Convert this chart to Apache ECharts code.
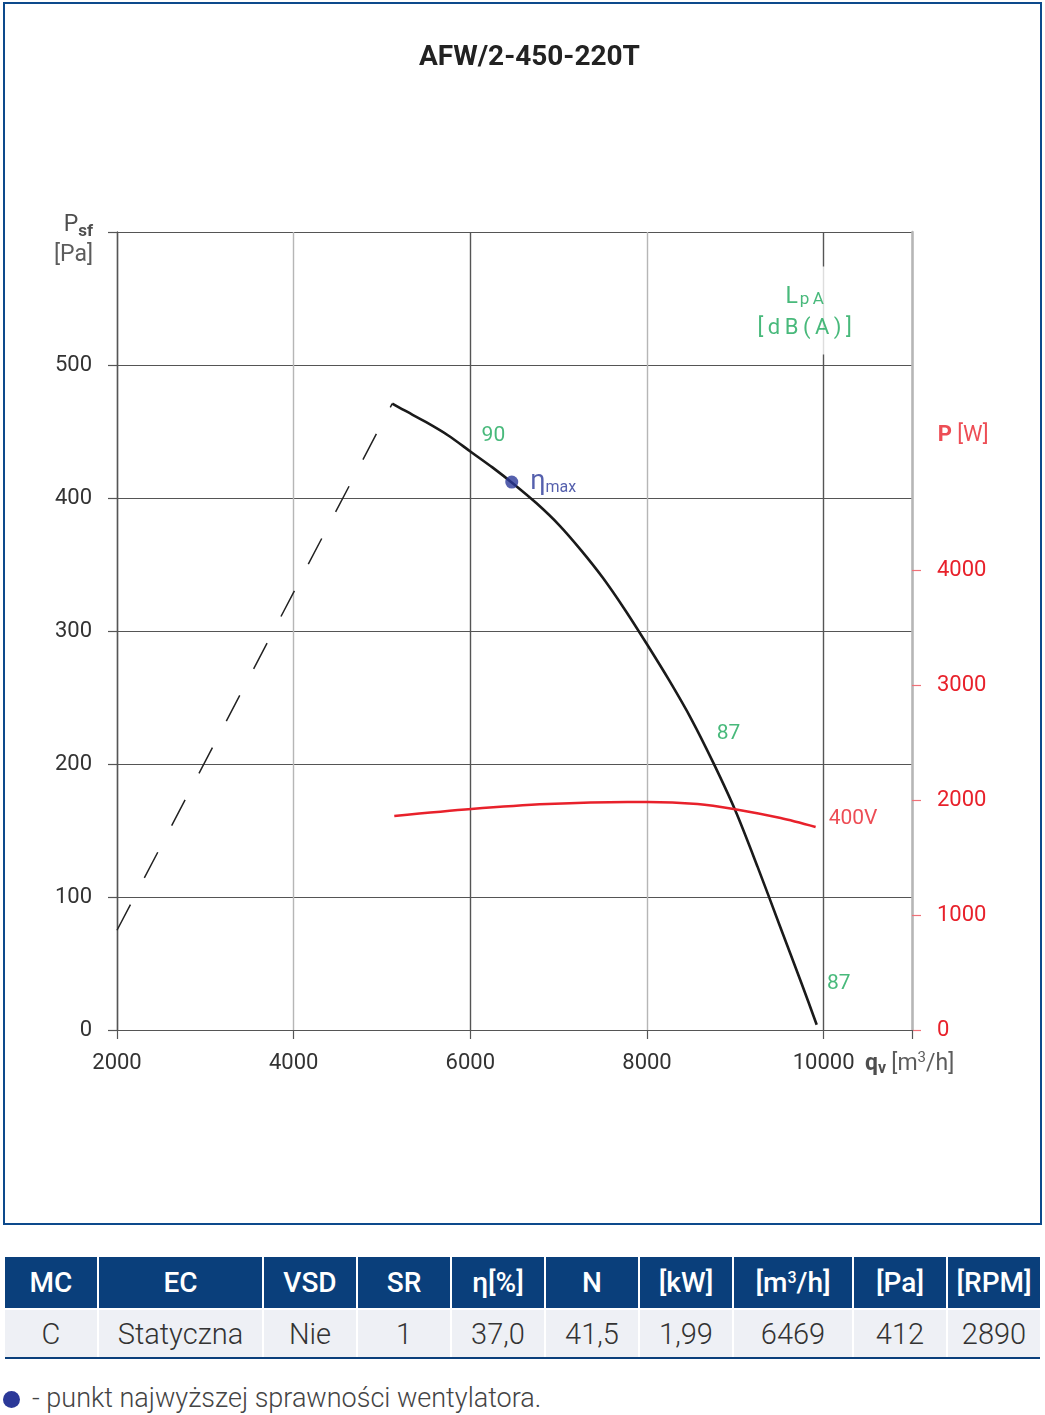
<!DOCTYPE html>
<html>
<head>
<meta charset="utf-8">
<script src="https://cdn.jsdelivr.net/npm/echarts@6/dist/echarts.min.js"></script>
<style>
body { margin: 0; background: #fff; font-family: Roboto, "Noto Sans", sans-serif; }
#wrap { position: relative; width: 1045px; height: 1415px; overflow: hidden; }
#chart { position: absolute; left: 0; top: 0; width: 1045px; height: 1226px; }
#frame { position: absolute; left: 3px; top: 2px; width: 1039px; height: 1223px; box-sizing: border-box; border: 2px solid #0d4a8c; pointer-events: none; }
#tab { position: absolute; left: 3px; top: 1255px; border-collapse: separate; border-spacing: 2px; table-layout: fixed; }
#tab td { padding: 0; text-align: center; white-space: nowrap; }
#tab tr.head td { height: 51px; background: #0a3f7b; color: #fff; font-weight: 500; font-size: 28px; }
#tab tr.vals td { height: 47px; background: #eef0f5; color: #333; font-size: 29px; font-weight: 300; }
#line { position: absolute; left: 5px; top: 1357px; width: 1035px; height: 2px; background: #0a3f7b; }
#note { position: absolute; left: 3px; top: 1382px; font-size: 27px; color: #444; font-weight: 300; }
#note span { display: inline-block; width: 17px; height: 17px; border-radius: 50%; background: #2b3898; vertical-align: -1px; margin-right: 12px; }
</style>
</head>
<body>
<div id="wrap">
  <div id="chart"></div>
  <div id="frame"></div>
  <table id="tab"><colgroup id="cols"></colgroup><tr class="head" id="head"></tr><tr class="vals" id="vals"></tr></table>
  <div id="line"></div>
  <div id="note"><span></span>- punkt najwyższej sprawności wentylatora.</div>
</div>
<script>
// krzywa wentylatora qv [m3/h] -> Psf [Pa]
var fanQ = [5116, 5250, 5500, 5750, 6000, 6250, 6500, 6750, 7000, 7250, 7500, 7750, 8000, 8250, 8500, 8750, 9000, 9250, 9500, 9750, 9921];
var fanP = [471, 466, 457, 447, 435, 423, 410, 396, 380, 361, 340, 316, 290, 263, 234, 201, 165, 123, 79, 35, 4];
// granica pracy (linia przerywana)
var limitQ = [2000, 5116];
var limitP = [75, 471];
// moc P [W], 400V
var powQ = [5139, 6011, 6873, 7779, 8006, 8572, 8980, 9513, 9909];
var powW = [1861, 1922, 1965, 1983, 1983, 1965, 1922, 1843, 1765];
// punkt najwyzszej sprawnosci
var etaMax = [6469, 412];
// poziom halasu LpA
var noiseTxt = ['90', '87', '87'];
var noiseQ = [6261, 8924, 10170];
var noiseP = [447, 223, 35];

var xTicks = [2000, 4000, 6000, 8000, 10000];
var yTicks = [0, 100, 200, 300, 400, 500];
var wTicks = [0, 1000, 2000, 3000, 4000];

var tableHeads = ['MC', 'EC', 'VSD', 'SR', 'η[%]', 'N', '[kW]', '[m³/h]', '[Pa]', '[RPM]'];
var tableValues = ['C', 'Statyczna', 'Nie', '1', '37,0', '41,5', '1,99', '6469', '412', '2890'];
var colW = [92, 163, 92, 92, 92, 92, 92, 118, 92, 92];

var FONT = 'Roboto';
var GREEN = '#1aa85a', RED = '#e8212b', BLUE = '#2b3898';
var TS = '\u2009'; // waska spacja

function pairs(a, b) {
  var out = [];
  for (var i = 0; i < a.length; i++) out.push([a[i], b[i]]);
  return out;
}
function plain(v) { return String(v); }

var notes = [];
for (var i = 0; i < noiseTxt.length; i++) {
  notes.push({ value: [noiseQ[i], noiseP[i]], label: { formatter: noiseTxt[i], color: GREEN, fontSize: 21 } });
}
notes.push({ value: [9785, 541], label: {
  formatter: '{l|L}{s|p' + TS + 'A}\n{u|' + ['[', 'd', 'B', '(', 'A', ')', ']'].join(TS) + '}',
  backgroundColor: '#fff', padding: [6, 0, 6, 0],
  rich: { l: { fontSize: 23, color: GREEN, fontFamily: FONT, verticalAlign: 'bottom', lineHeight: 36 },
          s: { fontSize: 17, color: GREEN, fontFamily: FONT, verticalAlign: 'bottom', padding: [9, 0, 0, 2], lineHeight: 36 },
          u: { fontSize: 22, color: GREEN, fontFamily: FONT, lineHeight: 40 } } } });
notes.push({ value: [10057, 159], label: { formatter: '400V', color: RED, fontSize: 21, align: 'left' } });
notes.push({ value: [11292, 447], label: { formatter: '{b|P} {n|[W]}', align: 'left',
  rich: { b: { fontSize: 22, fontWeight: 'bold', color: RED, fontFamily: FONT }, n: { fontSize: 22, color: RED, fontFamily: FONT } } } });
notes.push({ value: [2000, 600], label: { formatter: '{b|P}{s|sf}\n{n|[Pa]}', align: 'right', offset: [-24, 8],
  rich: { b: { fontSize: 23, color: '#222', fontFamily: FONT, lineHeight: 30 },
          s: { fontSize: 17, fontWeight: 'bold', color: '#222', fontFamily: FONT, verticalAlign: 'bottom', padding: [6, 0, 0, 0], lineHeight: 30 },
          n: { fontSize: 23, color: '#333', fontFamily: FONT, lineHeight: 30 } } } });
notes.push({ value: [11000, 0], label: { formatter: '{b|q}{s|v} {n|[m}{u|3}{n|/h]}', align: 'left', offset: [-47, 34],
  rich: { b: { fontSize: 23, fontWeight: 'bold', color: '#222', fontFamily: FONT },
          s: { fontSize: 16, fontWeight: 'bold', color: '#222', fontFamily: FONT, verticalAlign: 'bottom', padding: [10, 0, 0, 0] },
          n: { fontSize: 23, color: '#333', fontFamily: FONT },
          u: { fontSize: 15, color: '#333', fontFamily: FONT, verticalAlign: 'top', padding: [0, 0, 10, 0] } } } });

var chart = echarts.init(document.getElementById('chart'), null, { renderer: 'canvas' });
var option = {
  animation: false,
  backgroundColor: '#fff',
  title: {
    text: 'AFW/2-450-220T', left: 414, top: 39,
    textStyle: { fontFamily: FONT, fontSize: 28, fontWeight: 'bold', color: '#222' }
  },
  grid: { left: 117, top: 232, width: 795, height: 798 },
  xAxis: {
    type: 'value', min: 2000, max: 11000, interval: 2000,
    axisLine: { show: true, lineStyle: { color: '#555', width: 1.2 } },
    axisTick: { show: true, length: 9, customValues: xTicks.concat([11000]), lineStyle: { color: '#555', width: 1.2 } },
    axisLabel: { customValues: xTicks, formatter: plain, margin: 22, fontFamily: FONT, fontSize: 22, color: '#333' },
    splitLine: { show: true, lineStyle: { color: ['#555', '#b6b6b6'], width: 1.4 } }
  },
  yAxis: [{
    type: 'value', min: 0, max: 600, interval: 100,
    axisLine: { show: true, lineStyle: { color: '#555', width: 1.3 } },
    axisTick: { show: true, length: 9, lineStyle: { color: '#555', width: 1.2 } },
    axisLabel: { customValues: yTicks, formatter: plain, margin: 25, fontFamily: FONT, fontSize: 22, color: '#333' },
    splitLine: { show: true, lineStyle: { color: '#555', width: 1.2 } }
  }, {
    type: 'value', min: 0, max: 6940, interval: 1000, position: 'right',
    axisLine: { show: true, lineStyle: { color: '#b6b6b6', width: 2.5 } },
    axisTick: { show: true, length: 9, customValues: wTicks, lineStyle: { color: '#f07077', width: 1.2 } },
    axisLabel: { customValues: wTicks, formatter: plain, margin: 25, fontFamily: FONT, fontSize: 22, color: RED },
    splitLine: { show: false }
  }],
  series: [{
    name: 'limit', type: 'line', data: pairs(limitQ, limitP), symbol: 'none',
    lineStyle: { color: '#222', width: 1.5, type: [29, 30] }, z: 3
  }, {
    name: 'fan', type: 'line', data: pairs(fanQ, fanP), symbol: 'none', smooth: 0.3,
    lineStyle: { color: '#1a1a1a', width: 2.6 }, z: 4
  }, {
    name: 'power', type: 'line', yAxisIndex: 1, data: pairs(powQ, powW), symbol: 'none', smooth: 0.3,
    lineStyle: { color: RED, width: 2.6 }, z: 4
  }, {
    name: 'eta', type: 'scatter', data: [etaMax], symbolSize: 13, itemStyle: { color: BLUE }, z: 6,
    label: { show: true, position: 'right', distance: 12, formatter: '{e|η}{m|max}',
      rich: { e: { fontSize: 27, color: BLUE, fontFamily: FONT }, m: { fontSize: 16, color: BLUE, fontFamily: FONT, verticalAlign: 'bottom', padding: [8, 0, 0, 0] } } }
  }, {
    name: 'notes', type: 'scatter', data: notes, symbolSize: 0, clip: false, silent: true, z: 5,
    label: { show: true, position: 'inside', fontFamily: FONT, fontSize: 21 }
  }]
};
chart.setOption(option);

// tabela parametrow
var cols = document.getElementById('cols');
var head = document.getElementById('head');
var vals = document.getElementById('vals');
for (var k = 0; k < tableHeads.length; k++) {
  var c = document.createElement('col');
  c.style.width = colW[k] + 'px';
  cols.appendChild(c);
  var h = document.createElement('td');
  h.style.width = colW[k] + 'px';
  h.innerHTML = tableHeads[k].replace('³', '<sup style="font-size:16px;vertical-align:9px">3</sup>');
  head.appendChild(h);
  var v = document.createElement('td');
  v.textContent = tableValues[k];
  vals.appendChild(v);
}
</script>
</body>
</html>
